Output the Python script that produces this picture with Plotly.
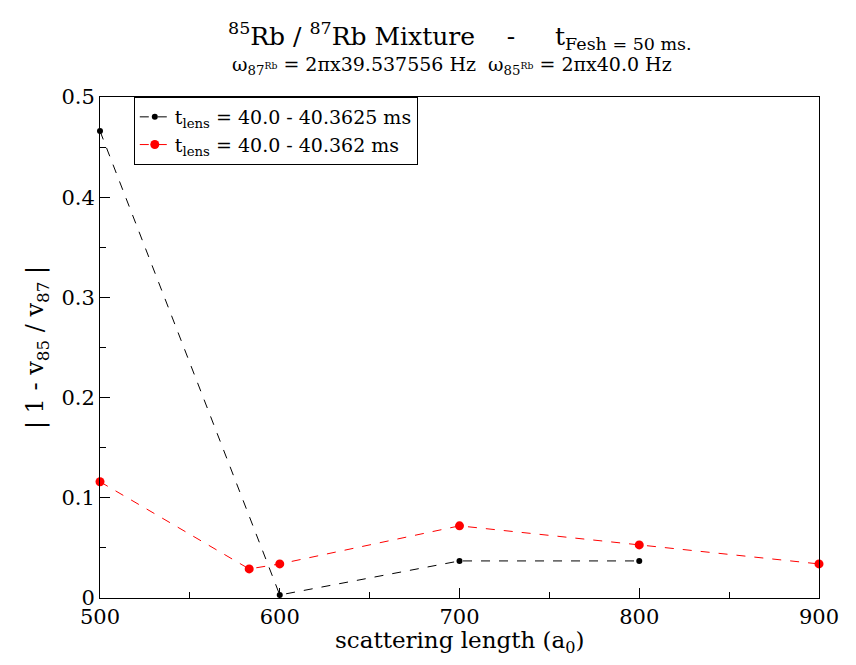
import plotly.graph_objects as go

black_x = [500, 600, 700, 800]
black_y = [0.466, 0.003, 0.037, 0.037]
red_x = [500, 583, 600, 700, 800, 900]
red_y = [0.116, 0.029, 0.034, 0.072, 0.053, 0.034]

black_name = "t<sub>lens</sub> = 40.0 - 40.3625 ms"
red_name = "t<sub>lens</sub> = 40.0 - 40.362 ms"

FONT = "DejaVu Serif"

fig = go.Figure()
fig.add_trace(go.Scatter(x=black_x, y=black_y, mode="lines+markers", name=black_name,
                         line=dict(color="black", width=1, dash="dash"),
                         marker=dict(color="black", size=6), cliponaxis=False))
fig.add_trace(go.Scatter(x=red_x, y=red_y, mode="lines+markers", name=red_name,
                         line=dict(color="red", width=1, dash="dash"),
                         marker=dict(color="red", size=9), cliponaxis=False))

fig.update_layout(
    width=856, height=665,
    margin=dict(l=100, r=37, t=97, b=67),
    paper_bgcolor="white", plot_bgcolor="white",
    font=dict(family=FONT, color="black", size=20),
    showlegend=True,
    legend=dict(x=0.047, y=1.0, xanchor="left", yanchor="top",
                bgcolor="white", bordercolor="black", borderwidth=1,
                font=dict(size=19, family=FONT), tracegroupgap=0),
    xaxis=dict(range=[500, 900], tickvals=[500, 600, 700, 800, 900],
               ticks="inside", ticklen=10, tickwidth=1, tickcolor="black",
               minor=dict(tickvals=[550, 650, 750, 850], ticks="inside", ticklen=6, tickcolor="black"),
               showline=True, linecolor="black", linewidth=1, mirror=True,
               showgrid=False, zeroline=False,
               tickfont=dict(size=21, family=FONT)),
    yaxis=dict(range=[0, 0.5], tickvals=[0, 0.1, 0.2, 0.3, 0.4, 0.5],
               ticktext=["0", "0.1", "0.2", "0.3", "0.4", "0.5"],
               ticks="inside", ticklen=10, tickwidth=1, tickcolor="black",
               minor=dict(tickvals=[0.05, 0.15, 0.25, 0.35, 0.45], ticks="inside", ticklen=6, tickcolor="black"),
               showline=True, linecolor="black", linewidth=1, mirror=True,
               showgrid=False, zeroline=False,
               tickfont=dict(size=21, family=FONT),
               title=dict(text="| 1 - v<sub>85</sub> / v<sub>87</sub> |", font=dict(size=24, family=FONT), standoff=10)),
)

fig.add_annotation(xref="paper", yref="paper", x=0.5, y=0, yshift=-44, xanchor="center", yanchor="middle",
                   text="scattering length (a<sub>0</sub>)",
                   showarrow=False, font=dict(size=23, family=FONT))
fig.add_annotation(xref="paper", yref="paper", x=0.5, y=1.0, yshift=61, xanchor="center", yanchor="middle",
                   text="<sup>85</sup>Rb / <sup>87</sup>Rb Mixture &nbsp;&nbsp;&nbsp;- &nbsp;&nbsp;&nbsp;&nbsp;t<sub>Fesh = 50 ms.</sub>",
                   showarrow=False, font=dict(size=25, family=FONT))
fig.add_annotation(xref="paper", yref="paper", x=0.49, y=1.0, yshift=32, xanchor="center", yanchor="middle",
                   text="ω<sub>87<sup>Rb</sup></sub> = 2πx39.537556 Hz &nbsp;ω<sub>85<sup>Rb</sup></sub> = 2πx40.0 Hz",
                   showarrow=False, font=dict(size=19, family=FONT))

fig.write_html("out.html")
